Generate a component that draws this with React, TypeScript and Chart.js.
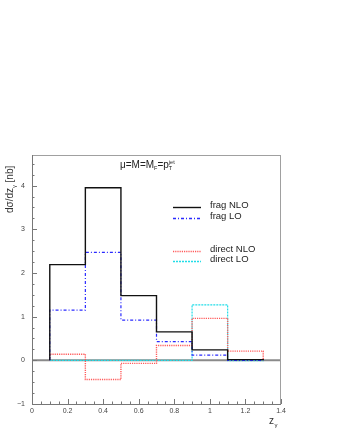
import React, { useEffect, useRef } from "react";
import { Chart, registerables } from "chart.js";

Chart.register(...registerables);

const binEdges = [0.1, 0.3, 0.5, 0.7, 0.9, 1.1, 1.3];
const fragNLO = [2.19, 3.95, 1.48, 0.65, 0.24, 0.015];
const fragLO = [1.15, 2.47, 0.92, 0.43, 0.12, 0.0];
const directNLO = [0.14, -0.44, -0.07, 0.34, 0.96, 0.21];
const directLO = [0.0, 0.0, 0.0, 0.0, 1.27, -0.01];

const xMajorTicks = [0, 0.2, 0.4, 0.6, 0.8, 1, 1.2, 1.4];
const xTickLabels = ["0", "0.2", "0.4", "0.6", "0.8", "1", "1.2", "1.4"];
const yMajorTicks = [-1, 0, 1, 2, 3, 4];
const yTickLabels = ["\u22121", "0", "1", "2", "3", "4"];

const seriesNames = ["frag NLO", "frag LO", "direct NLO", "direct LO"];
const seriesColors = ["#111111", "#2a2aff", "#ff5a5a", "#22dde8"];
const seriesWidths = [1.4, 1.2, 1.4, 1.2];
const seriesDashes: number[][] = [[], [3, 2, 1, 2], [1.2, 1], [2, 1]];

function histPoints(values: number[]) {
  const pts: { x: number; y: number }[] = [{ x: binEdges[0], y: 0 }];
  values.forEach((v, i) => {
    pts.push({ x: binEdges[i], y: v });
    pts.push({ x: binEdges[i + 1], y: v });
  });
  pts.push({ x: binEdges[binEdges.length - 1], y: 0 });
  return pts;
}

const FONT = "'Liberation Sans', Arial, sans-serif";

const overlayPlugin = {
  id: "overlay",
  beforeDatasetsDraw(chart: any) {
    const { ctx, chartArea: a, scales } = chart;
    const ys = scales.y;
    ctx.save();
    ctx.strokeStyle = "#8a8a8a";
    ctx.lineWidth = 2;
    ctx.beginPath();
    ctx.moveTo(a.left, ys.getPixelForValue(0));
    ctx.lineTo(a.right, ys.getPixelForValue(0));
    ctx.stroke();
    ctx.restore();
  },
  afterDatasetsDraw(chart: any) {
    const { ctx, chartArea: a, scales } = chart;
    const xs = scales.x;
    const ys = scales.y;
    ctx.save();
    // frame
    ctx.strokeStyle = "#a0a0a0";
    ctx.lineWidth = 1;
    ctx.strokeRect(a.left + 0.5, a.top + 0.5, a.right - a.left - 1, a.bottom - a.top);
    ctx.strokeStyle = "#777";
    ctx.beginPath();
    ctx.moveTo(a.left + 0.5, a.top);
    ctx.lineTo(a.left + 0.5, a.bottom + 0.5);
    ctx.lineTo(a.right, a.bottom + 0.5);
    ctx.stroke();
    // x ticks
    for (let i = 0; i <= 28; i++) {
      const v = i * 0.05;
      const px = Math.round(xs.getPixelForValue(v)) + 0.5;
      const len = i % 4 === 0 ? 5 : 2.5;
      ctx.beginPath();
      ctx.moveTo(px, a.bottom);
      ctx.lineTo(px, a.bottom - len);
      ctx.stroke();
    }
    // y ticks
    for (let i = -4; i <= 18; i++) {
      const v = i * 0.25;
      const py = Math.round(ys.getPixelForValue(v)) + 0.5;
      const len = i % 4 === 0 ? 5 : 2.5;
      ctx.beginPath();
      ctx.moveTo(a.left, py);
      ctx.lineTo(a.left + len, py);
      ctx.stroke();
    }
    // tick labels
    ctx.fillStyle = "#444";
    ctx.font = `7px ${FONT}`;
    ctx.textAlign = "center";
    ctx.textBaseline = "middle";
    xMajorTicks.forEach((v, i) => {
      ctx.fillText(xTickLabels[i], xs.getPixelForValue(v), a.bottom + 7);
    });
    ctx.textAlign = "right";
    yMajorTicks.forEach((v, i) => {
      ctx.fillText(yTickLabels[i], a.left - 7, ys.getPixelForValue(v));
    });

    // axis titles
    ctx.fillStyle = "#333";
    ctx.font = `10px ${FONT}`;
    ctx.textAlign = "left";
    ctx.textBaseline = "alphabetic";
    ctx.fillText("z", 269, 424);
    ctx.font = `6px ${FONT}`;
    ctx.fillText("\u03b3", 274.5, 427);

    ctx.save();
    ctx.translate(13, 213);
    ctx.rotate(-Math.PI / 2);
    ctx.font = `10px ${FONT}`;
    const t = "d\u03c3/dz";
    ctx.fillText(t, 0, 0);
    let w = ctx.measureText(t).width;
    ctx.font = `6px ${FONT}`;
    ctx.fillText("\u03b3", w, 2.5);
    w += ctx.measureText("\u03b3").width + 2.5;
    ctx.font = `10px ${FONT}`;
    ctx.fillText("[nb]", w, 0);
    ctx.restore();

    // annotation mu=M=M_F=p_T^jet
    let x = 120;
    const yb = 168;
    const seg = (s: string, size: number, dy: number) => {
      ctx.font = `${size}px ${FONT}`;
      ctx.fillText(s, x, yb + dy);
      x += ctx.measureText(s).width;
    };
    ctx.fillStyle = "#222";
    seg("\u03bc=M=M", 10, 0);
    seg("F", 5.5, 2);
    seg("=p", 10, 0);
    const xT = x;
    seg("T", 5.5, 2);
    x = xT;
    seg("jet", 5.5, -4.5);

    // legend
    const ly = [207.5, 218.5, 251.5, 261.5];
    ly.forEach((y, i) => {
      ctx.save();
      ctx.strokeStyle = seriesColors[i];
      ctx.lineWidth = i === 0 ? 1.4 : 1.3;
      ctx.setLineDash(seriesDashes[i]);
      ctx.beginPath();
      ctx.moveTo(173, y);
      ctx.lineTo(201, y);
      ctx.stroke();
      ctx.restore();
      ctx.fillStyle = "#222";
      ctx.font = `9.5px ${FONT}`;
      ctx.textAlign = "left";
      ctx.textBaseline = "middle";
      ctx.fillText(seriesNames[i], 210, y - 2);
    });
    ctx.restore();
  },
};

export default function App() {
  const ref = useRef<HTMLCanvasElement>(null);
  useEffect(() => {
    document.body.style.margin = "0";
    const allValues = [fragNLO, fragLO, directNLO, directLO];
    const chart = new Chart(ref.current!, {
      type: "scatter",
      data: {
        datasets: allValues.map((vals, i) => ({
          label: seriesNames[i],
          data: histPoints(vals),
          showLine: true,
          pointRadius: 0,
          tension: 0,
          fill: false,
          borderColor: seriesColors[i],
          borderWidth: seriesWidths[i],
          borderDash: seriesDashes[i],
          order: i,
        })),
      },
      options: {
        animation: false,
        responsive: false,
        devicePixelRatio: 1,
        layout: { padding: { left: 32, right: 56, top: 155, bottom: 32 } },
        plugins: { legend: { display: false }, tooltip: { enabled: false } },
        scales: {
          x: { type: "linear", min: 0, max: 1.4, display: false },
          y: { type: "linear", min: -1, max: 4.7, display: false },
        },
      },
      plugins: [overlayPlugin],
    });
    return () => chart.destroy();
  }, []);
  return <canvas ref={ref} width={337} height={436} style={{ display: "block", width: 337, height: 436 }} />;
}
